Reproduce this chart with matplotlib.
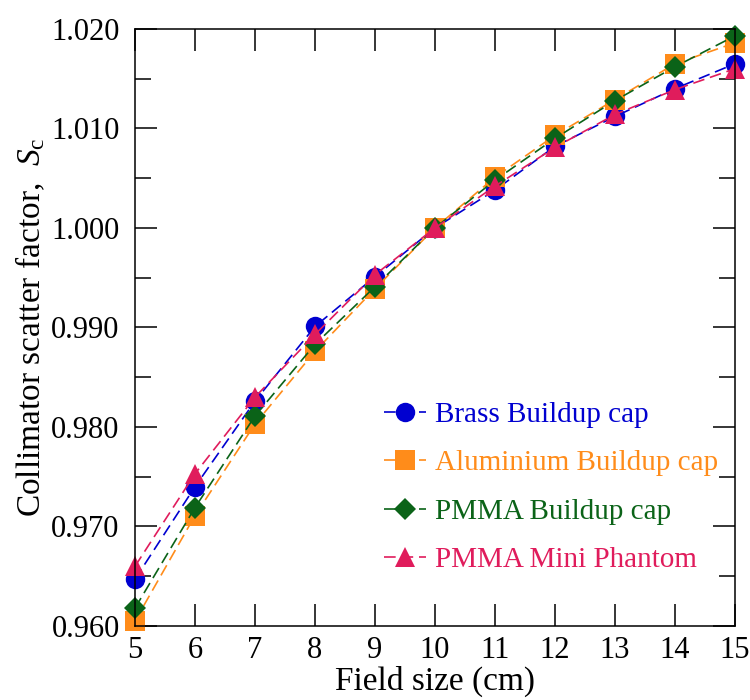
import matplotlib
matplotlib.use("Agg")
import matplotlib.pyplot as plt
from matplotlib.ticker import MultipleLocator, FormatStrFormatter

plt.rcParams['font.family'] = ['Liberation Serif', 'DejaVu Serif']
plt.rcParams['mathtext.fontset'] = 'custom'
plt.rcParams['mathtext.rm'] = 'Liberation Serif'
plt.rcParams['mathtext.it'] = 'Liberation Serif:italic'

field_size = [5, 6, 7, 8, 9, 10, 11, 12, 13, 14, 15]
brass = [0.9647, 0.9740, 0.9826, 0.9901, 0.9951, 1.0000, 1.0038, 1.0082, 1.0112, 1.0140, 1.0165]
aluminium = [0.9605, 0.9711, 0.9803, 0.9876, 0.9939, 1.0000, 1.0051, 1.0093, 1.0129, 1.0165, 1.0186]
pmma_cap = [0.9618, 0.9719, 0.9811, 0.9883, 0.9941, 1.0000, 1.0048, 1.0090, 1.0128, 1.0162, 1.0193]
pmma_mini = [0.9660, 0.9753, 0.9830, 0.9893, 0.9953, 1.0000, 1.0042, 1.0081, 1.0114, 1.0139, 1.0160]

series = [
    ("Brass Buildup cap", brass, '#0000D0', 'o', 14),
    ("Aluminium Buildup cap", aluminium, '#FF8C1A', 's', 15),
    ("PMMA Buildup cap", pmma_cap, '#0B6318', 'D', 11),
    ("PMMA Mini Phantom", pmma_mini, '#E01C5C', '^', 14),
]

fig = plt.figure(figsize=(7.5, 7.0), dpi=100)
ax = fig.add_axes([0.18, 0.1057, 0.80, 0.853])

for label, vals, color, marker, ms in series:
    ax.plot(field_size, vals, linestyle=(0, (7, 3.5)), linewidth=1.2, color=color,
            marker=marker, markersize=ms, markeredgewidth=0, label=label, clip_on=False)

ax.set_xlim(5, 15)
ax.set_ylim(0.960, 1.020)
ax.xaxis.set_major_locator(MultipleLocator(1))
ax.yaxis.set_major_locator(MultipleLocator(0.01))
ax.yaxis.set_minor_locator(MultipleLocator(0.005))
ax.yaxis.set_major_formatter(FormatStrFormatter('%.3f'))

ax.tick_params(which='both', direction='in', top=True, right=True, width=1.1, labelsize=22)
ax.tick_params(which='major', length=15.5)
ax.tick_params(which='minor', length=11.5)
ax.tick_params(axis='y', pad=11)
ax.tick_params(axis='x', pad=7)
for s in ax.spines.values():
    s.set_linewidth(1.1)

ax.set_xlabel("Field size (cm)", fontsize=24, labelpad=1)
ax.set_ylabel("Collimator scatter factor,  $\\mathit{S}_\\mathrm{c}$", fontsize=24, labelpad=3)

leg = ax.legend(loc='upper left', bbox_to_anchor=(0.39, 0.40), frameon=False, fontsize=21,
                handlelength=1.45, handletextpad=0.3, labelspacing=0.75, borderpad=0)
for text, (_, _, color, _, _) in zip(leg.get_texts(), series):
    text.set_color(color)

fig.savefig("out.png", dpi=100)
